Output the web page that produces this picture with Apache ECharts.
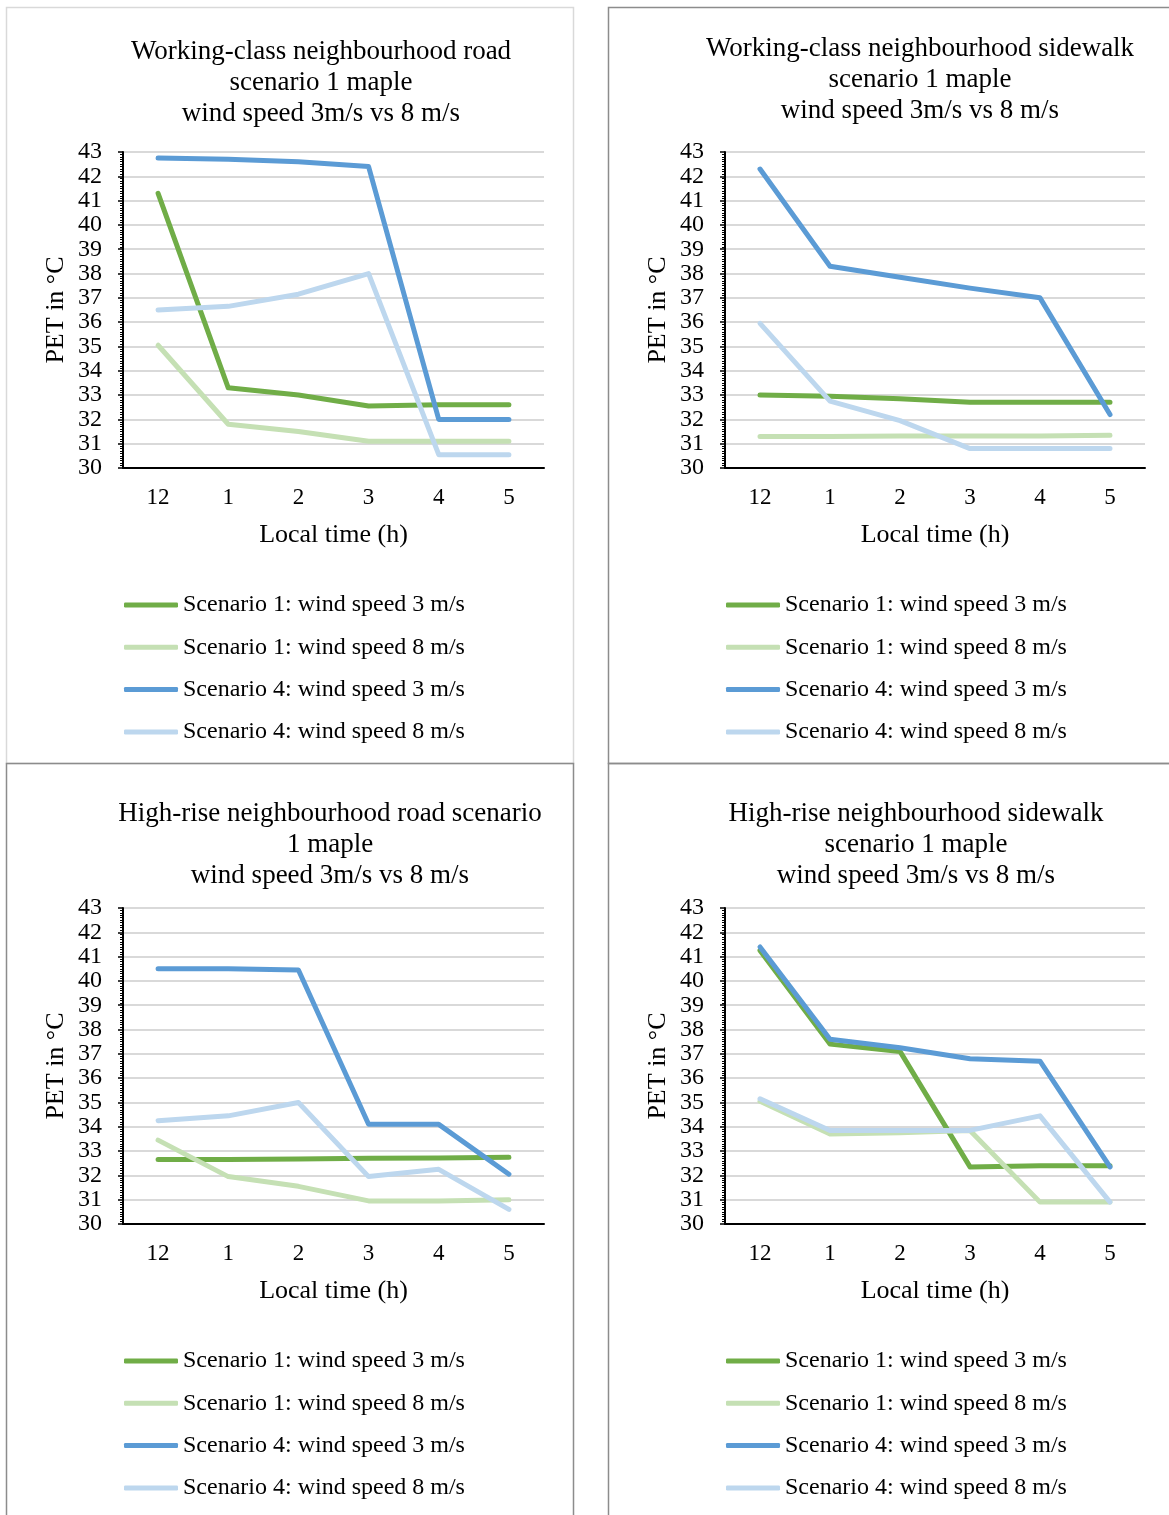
<!DOCTYPE html>
<html>
<head>
<meta charset="utf-8">
<script src="https://cdn.jsdelivr.net/npm/echarts@6/dist/echarts.min.js"></script>
<style>
html, body { margin: 0; padding: 0; background: #fff; }
#plot { width: 1169px; height: 1515px; }
</style>
</head>
<body>
<div id="plot"></div>
<script>
// categories / ticks
var hours = ['12', '1', '2', '3', '4', '5'];
var seriesNames = [
    'Scenario 1: wind speed 3 m/s',
    'Scenario 1: wind speed 8 m/s',
    'Scenario 4: wind speed 3 m/s',
    'Scenario 4: wind speed 8 m/s'
];
var titles = [
    'Working-class neighbourhood road\nscenario 1 maple\nwind speed 3m/s vs 8 m/s',
    'Working-class neighbourhood sidewalk\nscenario 1 maple\nwind speed 3m/s vs 8 m/s',
    'High-rise neighbourhood road scenario\n1 maple\nwind speed 3m/s vs 8 m/s',
    'High-rise neighbourhood sidewalk\nscenario 1 maple\nwind speed 3m/s vs 8 m/s'
];

// working-class road
var wcRoadS1w3 = [41.3, 33.3, 33.0, 32.55, 32.6, 32.6];
var wcRoadS1w8 = [35.05, 31.8, 31.5, 31.1, 31.1, 31.1];
var wcRoadS4w3 = [42.75, 42.7, 42.6, 42.4, 32.0, 32.0];
var wcRoadS4w8 = [36.5, 36.65, 37.15, 38.0, 30.55, 30.55];

// working-class sidewalk
var wcWalkS1w3 = [33.0, 32.95, 32.85, 32.7, 32.7, 32.7];
var wcWalkS1w8 = [31.3, 31.3, 31.32, 31.32, 31.32, 31.35];
var wcWalkS4w3 = [42.3, 38.3, 37.85, 37.4, 37.0, 32.2];
var wcWalkS4w8 = [35.95, 32.75, 31.95, 30.8, 30.8, 30.8];

// high-rise road
var hrRoadS1w3 = [32.65, 32.65, 32.67, 32.7, 32.72, 32.75];
var hrRoadS1w8 = [33.45, 31.95, 31.55, 30.95, 30.95, 31.0];
var hrRoadS4w3 = [40.5, 40.5, 40.45, 34.1, 34.1, 32.05];
var hrRoadS4w8 = [34.25, 34.45, 35.0, 31.95, 32.25, 30.6];

// high-rise sidewalk
var hrWalkS1w3 = [41.25, 37.4, 37.1, 32.35, 32.4, 32.4];
var hrWalkS1w8 = [35.05, 33.7, 33.75, 33.85, 30.9, 30.9];
var hrWalkS4w3 = [41.4, 37.6, 37.25, 36.8, 36.7, 32.35];
var hrWalkS4w8 = [35.15, 33.85, 33.85, 33.85, 34.45, 30.9];

var panelData = [
    [wcRoadS1w3, wcRoadS1w8, wcRoadS4w3, wcRoadS4w8],
    [wcWalkS1w3, wcWalkS1w8, wcWalkS4w3, wcWalkS4w8],
    [hrRoadS1w3, hrRoadS1w8, hrRoadS4w3, hrRoadS4w8],
    [hrWalkS1w3, hrWalkS1w8, hrWalkS4w3, hrWalkS4w8]
];

var colors = ['#70AD47', '#C5E0B4', '#5B9BD5', '#BDD7EE'];
var font = 'Liberation Serif, Times New Roman, serif';

// panel layout
var panels = [
    { x: 6, y: 7, w: 567, h: 756, border: '#d9d9d9', plotLeft: 123, plotW: 421, top: 152, titleX: 321, titleTop: 36 },
    { x: 608, y: 7, w: 570, h: 756, border: '#8c8c8c', plotLeft: 725, plotW: 420, top: 152, titleX: 920, titleTop: 33 },
    { x: 6, y: 763, w: 567, h: 760, border: '#8c8c8c', plotLeft: 123, plotW: 421, top: 908, titleX: 330, titleTop: 798 },
    { x: 608, y: 763, w: 570, h: 760, border: '#8c8c8c', plotLeft: 725, plotW: 420, top: 908, titleX: 916, titleTop: 798 }
];

var option = {
    animation: false,
    backgroundColor: '#fff',
    title: [], grid: [], xAxis: [], yAxis: [], legend: [], series: [],
    graphic: []
};

panels.forEach(function (p, i) {
    option.graphic.push({
        type: 'rect', silent: true, z: -1,
        shape: { x: p.x + 0.5, y: p.y + 0.5, width: p.w, height: p.h },
        style: { fill: null, stroke: p.border, lineWidth: 1.5 }
    });
    option.title.push({
        text: titles[i],
        left: p.titleX,
        top: p.titleTop,
        padding: 0,
        textAlign: 'center',
        textStyle: { fontFamily: font, fontSize: 27, fontWeight: 'normal', color: '#000', lineHeight: 31 }
    });
    option.grid.push({ left: p.plotLeft, top: p.top, width: p.plotW, height: 316, containLabel: false });
    option.xAxis.push({
        type: 'category',
        gridIndex: i,
        data: hours,
        boundaryGap: true,
        name: 'Local time (h)',
        nameLocation: 'middle',
        nameGap: 54,
        nameTextStyle: { fontFamily: font, fontSize: 26, color: '#000' },
        axisLine: { lineStyle: { color: '#000', width: 2 } },
        axisTick: { show: false },
        axisLabel: { fontFamily: font, fontSize: 23, color: '#000', margin: 18 }
    });
    option.yAxis.push({
        type: 'value',
        gridIndex: i,
        min: 30, max: 43, interval: 1,
        name: 'PET in \u00B0C',
        nameLocation: 'middle',
        nameRotate: 90,
        nameGap: 54,
        nameTextStyle: { fontFamily: font, fontSize: 26, color: '#000' },
        axisLine: { show: true, lineStyle: { color: '#000', width: 2 } },
        axisTick: { show: true, length: 5, lineStyle: { color: '#000', width: 1.5 } },
        minorTick: { show: true, splitNumber: 10, length: 3, lineStyle: { color: '#000', width: 1 } },
        axisLabel: { fontFamily: font, fontSize: 24, color: '#000', margin: 21 },
        splitLine: { show: true, lineStyle: { color: '#d9d9d9', width: 2 } }
    });
    option.legend.push({
        data: seriesNames,
        orient: 'vertical',
        left: p.plotLeft + 1,
        top: p.top + 441,
        padding: 0,
        itemWidth: 54,
        itemHeight: 5,
        itemGap: 18.3,
        icon: 'roundRect',
        textStyle: { fontFamily: font, fontSize: 24, color: '#000' }
    });
    panelData[i].forEach(function (vals, k) {
        option.series.push({
            name: seriesNames[k],
            type: 'line',
            xAxisIndex: i,
            yAxisIndex: i,
            data: vals,
            showSymbol: false,
            color: colors[k],
            lineStyle: { color: colors[k], width: 5, cap: 'round', join: 'round' }
        });
    });
});

var chart = echarts.init(document.getElementById('plot'));
chart.setOption(option);
</script>
</body>
</html>
